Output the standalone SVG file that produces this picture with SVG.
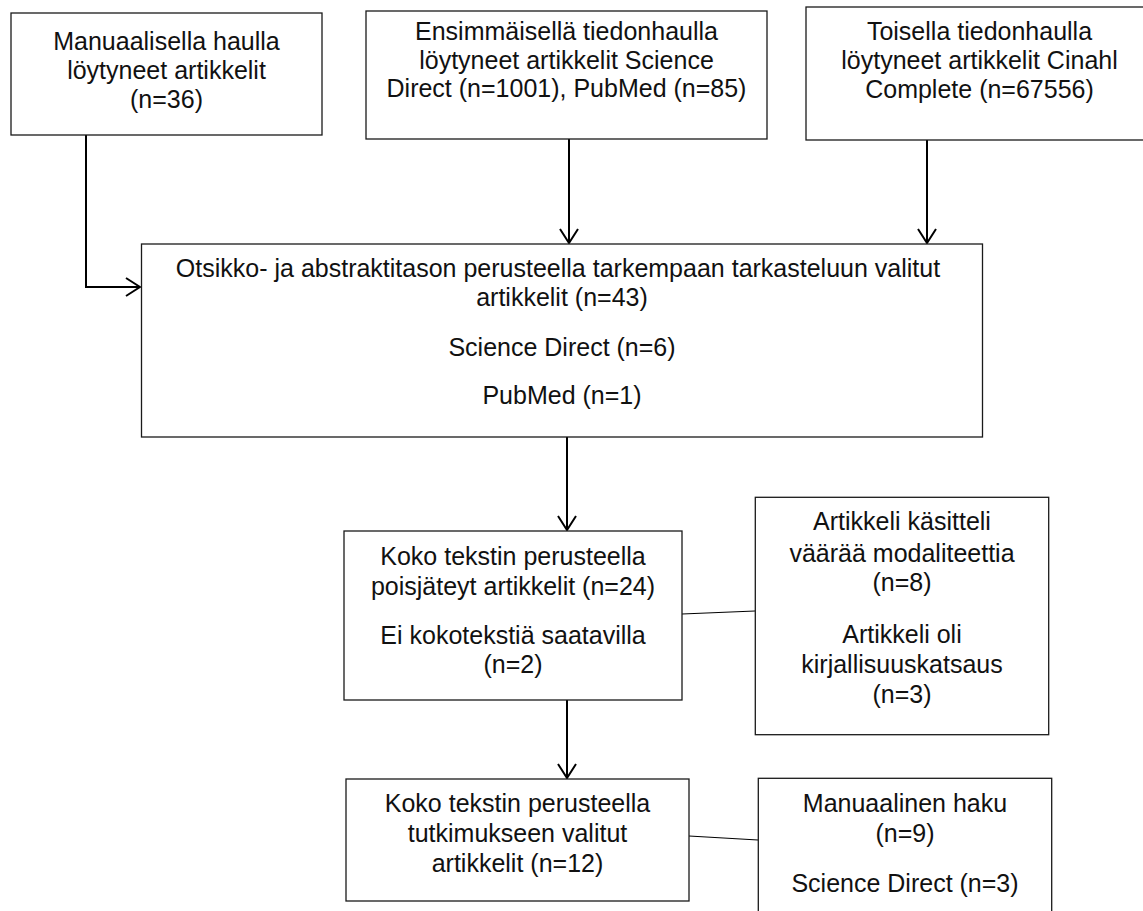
<svg xmlns="http://www.w3.org/2000/svg" width="1143" height="911" viewBox="0 0 1143 911">
<style>
.box{fill:#fff;stroke:#1a1a1a;stroke-width:1.3}
.t{font-family:"Liberation Sans",Arial,sans-serif;font-size:25px;fill:#111;text-anchor:middle}
.arr{fill:none;stroke:#000;stroke-width:2}
.ln{fill:none;stroke:#000;stroke-width:1.2}
</style>
<defs>
<marker id="ah" viewBox="0 0 16 20" refX="15" refY="10" markerWidth="16" markerHeight="20" markerUnits="userSpaceOnUse" orient="auto">
<path d="M1,1 L15,10 L1,19" fill="none" stroke="#000" stroke-width="2"/>
</marker>
</defs>
<rect width="1143" height="911" fill="#fff"/>
<g id="connectors">
<path class="arr" d="M86,135 V287 H140" marker-end="url(#ah)"/>
<path class="arr" d="M569,139 V243" marker-end="url(#ah)"/>
<path class="arr" d="M927,140 V243" marker-end="url(#ah)"/>
<path class="arr" d="M567,437 V530" marker-end="url(#ah)"/>
<path class="arr" d="M567,700 V778" marker-end="url(#ah)"/>
<path class="ln" d="M682,614 L755,611"/>
<path class="ln" d="M689,836 L758,840"/>
</g>
<g id="n1">
<rect class="box" x="11" y="13" width="311" height="122"/>
<text class="t" x="166.5" y="50">Manuaalisella haulla</text>
<text class="t" x="166.5" y="79">löytyneet artikkelit</text>
<text class="t" x="166.5" y="108">(n=36)</text>
</g>
<g id="n2">
<rect class="box" x="366" y="11" width="401" height="128"/>
<text class="t" x="566.5" y="40">Ensimmäisellä tiedonhaulla</text>
<text class="t" x="566.5" y="68.5">löytyneet artikkelit Science</text>
<text class="t" x="566.5" y="97">Direct (n=1001), PubMed (n=85)</text>
</g>
<g id="n3">
<rect class="box" x="806" y="7" width="348" height="133"/>
<text class="t" x="979.5" y="40">Toisella tiedonhaulla</text>
<text class="t" x="979.5" y="69">löytyneet artikkelit Cinahl</text>
<text class="t" x="979.5" y="98">Complete (n=67556)</text>
</g>
<g id="n4">
<rect class="box" x="141.5" y="244" width="841" height="193"/>
<text class="t" x="558" y="276.5">Otsikko- ja abstraktitason perusteella tarkempaan tarkasteluun valitut</text>
<text class="t" x="562" y="305.5">artikkelit (n=43)</text>
<text class="t" x="562" y="356">Science Direct (n=6)</text>
<text class="t" x="562" y="404">PubMed (n=1)</text>
</g>
<g id="n5">
<rect class="box" x="344" y="531" width="338" height="169"/>
<text class="t" x="513" y="564.5">Koko tekstin perusteella</text>
<text class="t" x="513" y="594.5">poisjäteyt artikkelit (n=24)</text>
<text class="t" x="513" y="643.5">Ei kokotekstiä saatavilla</text>
<text class="t" x="513" y="672.5">(n=2)</text>
</g>
<g id="n6">
<rect class="box" x="755.3" y="497.3" width="293.4" height="237.4"/>
<text class="t" x="902" y="530">Artikkeli käsitteli</text>
<text class="t" x="902" y="561.5">väärää modaliteettia</text>
<text class="t" x="902" y="591">(n=8)</text>
<text class="t" x="902" y="642.5">Artikkeli oli</text>
<text class="t" x="902" y="673">kirjallisuuskatsaus</text>
<text class="t" x="902" y="703">(n=3)</text>
</g>
<g id="n7">
<rect class="box" x="346" y="779" width="343" height="122"/>
<text class="t" x="517.5" y="811.5">Koko tekstin perusteella</text>
<text class="t" x="517.5" y="841.5">tutkimukseen valitut</text>
<text class="t" x="517.5" y="871.5">artikkelit (n=12)</text>
</g>
<g id="n8">
<rect class="box" x="758.3" y="778.3" width="293.4" height="150"/>
<text class="t" x="905" y="811.5">Manuaalinen haku</text>
<text class="t" x="905" y="842">(n=9)</text>
<text class="t" x="905" y="891.5">Science Direct (n=3)</text>
</g>
</svg>
